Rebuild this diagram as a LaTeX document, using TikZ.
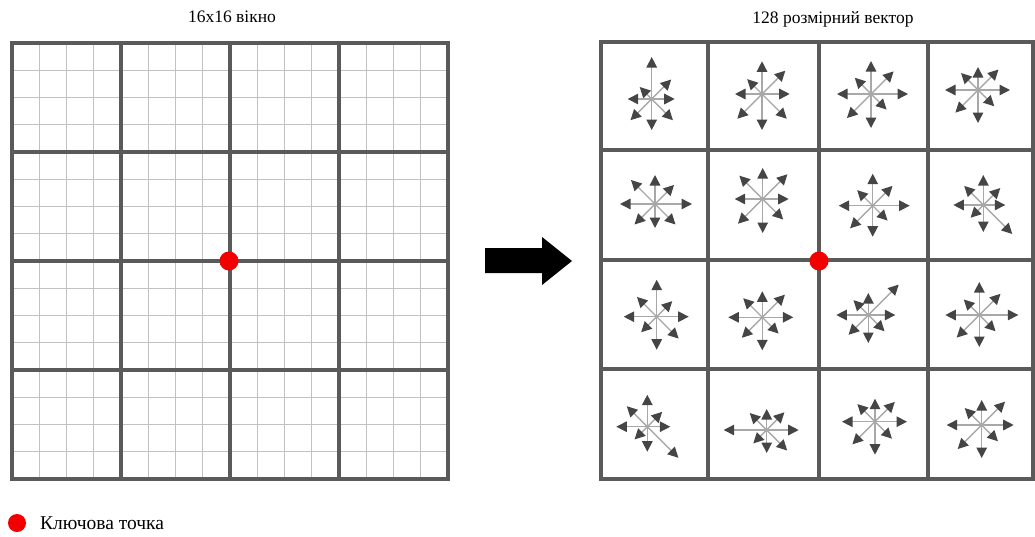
\documentclass[tikz,border=0pt]{standalone}
\usepackage{fontspec}
\setmainfont{Liberation Serif}
\usetikzlibrary{arrows.meta}
\definecolor{major}{HTML}{5A5A5A}
\definecolor{minor}{HTML}{C2C2C2}
\definecolor{shaft}{HTML}{A8A8A8}
\definecolor{head}{HTML}{454545}
\definecolor{keyred}{HTML}{F20000}
\tikzset{
 majorline/.style={draw=major, line width=3.1pt},
 minorline/.style={draw=minor, line width=1.4pt},
 vec/.style={draw=shaft, line width=1.4pt, -{Triangle[length=10.5pt,width=10.5pt,color=head]}},
 keypt/.style={circle, fill=keyred, inner sep=0pt, minimum size=19pt},
 lbl/.style={font=\fontsize{17.5}{20}\selectfont, inner sep=0pt},
 vstar/.pic={\foreach \len [count=\k from 0] in {#1} {\draw[vec] (0,0) -- ({-45*\k}:\len);}},
}
\begin{document}
\begin{tikzpicture}[x=1pt,y=-1pt]
\useasboundingbox (0,0) rectangle (1035,536);
% left fine grid
\foreach \i in {0,...,16} {
  \draw[minorline] ({12+\i*27.25},43) -- ({12+\i*27.25},479);
  \draw[minorline] (12,{43+\i*27.25}) -- (448,{43+\i*27.25});
}
\foreach \i in {1,2,3} {
  \draw[majorline] ({12+\i*109},43) -- ({12+\i*109},479);
  \draw[majorline] (12,{43+\i*109}) -- (448,{43+\i*109});
}
\draw[majorline] (12,43) rectangle (448,479);
% right grid
\foreach \x in {708,819,928} \draw[majorline] (\x,42) -- (\x,479);
\foreach \y in {150,260,369} \draw[majorline] (601,\y) -- (1033,\y);
\draw[majorline] (601,42) rectangle (1033,479);
% stars
\pic at (651.7,99) {vstar={23,27.6,42,17,24,30,31,30}};
\pic at (762,94) {vstar={27.7,33,32.7,21,27,35,36,35}};
\pic at (871,94) {vstar={37,32,33,23,34,34,34,22}};
\pic at (978,90) {vstar={32,29,23,24,33,32,33,23}};
\pic at (655,204) {vstar={37,27,29,34,35,29,24,29}};
\pic at (762.7,199) {vstar={26,35,31,33,28,35,34,29}};
\pic at (872.7,205.7) {vstar={37,28,32,22,34,32,31,21}};
\pic at (983.3,205) {vstar={22,24,30,27,30,18,27,41}};
\pic at (656.7,316.7) {vstar={32,22,37,28,33,22,33,31}};
\pic at (762.3,317.3) {vstar={31,32,26,27,34,29,33,23}};
\pic at (868.3,315) {vstar={27,43,22,21,32,28,28,23}};
\pic at (979.3,315) {vstar={39,30,33,22,34,32,32,23}};
\pic at (647.3,426.7) {vstar={23,21,32,29,31,18,25,44}};
\pic at (766.7,430) {vstar={32,25,21,24,43,19,23,29}};
\pic at (875,421.7) {vstar={32,28,23,25,33,32,33,24}};
\pic at (981.7,425) {vstar={32,33,25,24,35,34,33,23}};
% big arrow
\fill[black] (485,248) -- (542,248) -- (542,237) -- (572,261) -- (542,285) -- (542,273) -- (485,273) -- cycle;
% key points
\node[keypt] (kp1) at (229,261) {};
\node[keypt] (kp2) at (819,261) {};
% titles
\node[lbl] (t1) at (232,17) {16x16 вікно};
\node[lbl] (t2) at (833,19) {128 розмірний вектор};
% legend
\node[keypt, minimum size=18pt] (lg) at (17,523) {};
\node[lbl, anchor=west, font=\fontsize{19.5}{22}\selectfont] (lgt) at (40,523) {Ключова точка};
\end{tikzpicture}
\end{document}
